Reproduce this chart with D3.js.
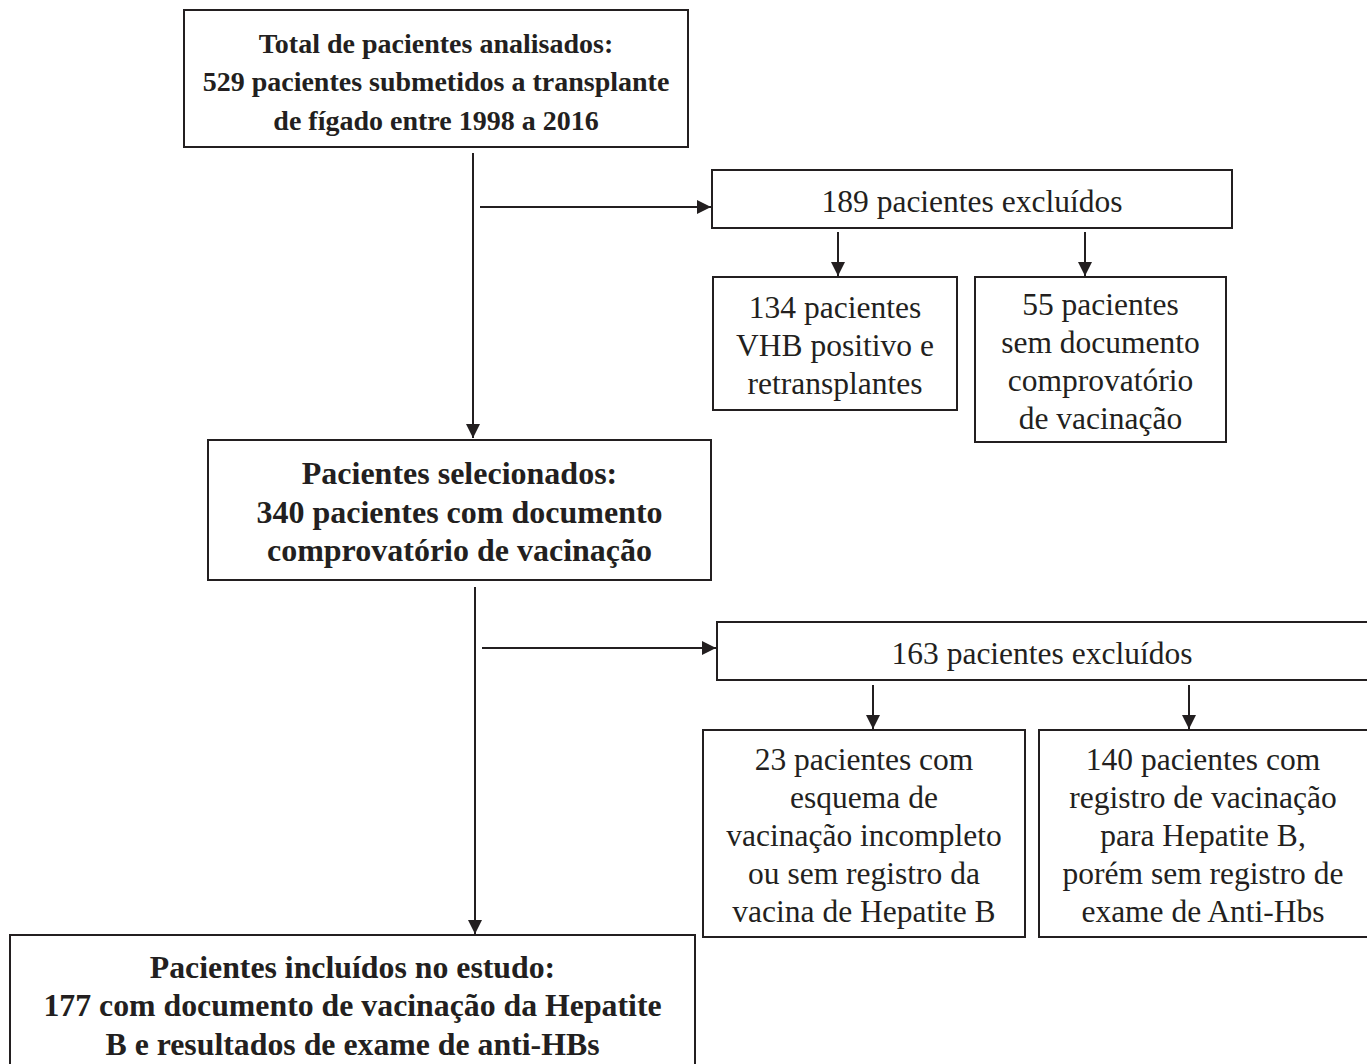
<!DOCTYPE html>
<html>
<head>
<meta charset="utf-8">
<script src="https://cdn.jsdelivr.net/npm/d3@7"></script>
<style>
  body { margin: 0; background: #fff; }
  svg { display: block; }
</style>
</head>
<body>
<script>
// box texts
const mainTotal = ['Total de pacientes analisados:', '529 pacientes submetidos a transplante', 'de fígado entre 1998 a 2016']
const mainSelected = ['Pacientes selecionados:', '340 pacientes com documento', 'comprovatório de vacinação']
const mainIncluded = ['Pacientes incluídos no estudo:', '177 com documento de vacinação da Hepatite', 'B e resultados de exame de anti-HBs']
const excluded1 = ['189 pacientes excluídos']
const excluded1a = ['134 pacientes', 'VHB positivo e', 'retransplantes']
const excluded1b = ['55 pacientes', 'sem documento', 'comprovatório', 'de vacinação']
const excluded2 = ['163 pacientes excluídos']
const excluded2a = ['23 pacientes com', 'esquema de', 'vacinação incompleto', 'ou sem registro da', 'vacina de Hepatite B']
const excluded2b = ['140 pacientes com', 'registro de vacinação', 'para Hepatite B,', 'porém sem registro de', 'exame de Anti-Hbs']

const width = 1367
const height = 1064
const ink = '#231f20'
const font = '"Liberation Serif", "Times New Roman", Tinos, serif'

const svg = d3.select('body').append('svg')
    .attr('width', width)
    .attr('height', height)

svg.append('defs').append('marker')
    .attr('id', 'arrow')
    .attr('viewBox', '0 0 14 14')
    .attr('refX', 14)
    .attr('refY', 7)
    .attr('markerWidth', 14)
    .attr('markerHeight', 14)
    .attr('markerUnits', 'userSpaceOnUse')
    .attr('orient', 'auto')
    .append('path')
    .attr('d', 'M0,0 L14,7 L0,14 Z')
    .attr('fill', ink)

// layout: [x0, y0, x1, y1], font size
const boxes = [
    {lines: mainTotal, rect: [184, 10, 688, 147], bold: true, size: 28},
    {lines: excluded1, rect: [712, 170, 1232, 228], bold: false, size: 31.5},
    {lines: excluded1a, rect: [713, 277, 957, 410], bold: false, size: 31.5},
    {lines: excluded1b, rect: [975, 277, 1226, 442], bold: false, size: 31.5},
    {lines: mainSelected, rect: [208, 440, 711, 580], bold: true, size: 32},
    {lines: excluded2, rect: [717, 622, 1370, 680], bold: false, size: 31.5},
    {lines: excluded2a, rect: [703, 730, 1025, 937], bold: false, size: 31.5},
    {lines: excluded2b, rect: [1039, 730, 1370, 937], bold: false, size: 31.5},
    {lines: mainIncluded, rect: [10, 935, 695, 1072], bold: true, size: 31.8}
]

const arrows = [
    {pts: [[473, 153], [473, 438]]},
    {pts: [[480, 207], [711, 207]]},
    {pts: [[838, 232], [838, 276]]},
    {pts: [[1085, 232], [1085, 276]]},
    {pts: [[475, 587], [475, 934]]},
    {pts: [[482, 648], [716, 648]]},
    {pts: [[873, 685], [873, 729]]},
    {pts: [[1189, 685], [1189, 729]]}
]

const line = d3.line()

svg.selectAll('path.link')
    .data(arrows)
    .enter()
    .append('path')
    .attr('class', 'link')
    .attr('d', d => line(d.pts))
    .attr('stroke', ink)
    .attr('stroke-width', 2)
    .attr('fill', 'none')
    .attr('marker-end', 'url(#arrow)')

const g = svg.selectAll('g.box')
    .data(boxes)
    .enter()
    .append('g')
    .attr('class', 'box')

g.append('rect')
    .attr('x', d => d.rect[0])
    .attr('y', d => d.rect[1])
    .attr('width', d => d.rect[2] - d.rect[0])
    .attr('height', d => d.rect[3] - d.rect[1])
    .attr('fill', '#fff')
    .attr('stroke', ink)
    .attr('stroke-width', 2)

g.each(function(d) {
    const lineHeight = d.bold ? 38.5 : 37.8
    const cx = (d.rect[0] + Math.min(d.rect[2], width)) / 2
    const cy = (d.rect[1] + Math.min(d.rect[3], height + 8)) / 2 + 2
    const top = cy - (d.lines.length - 1) * lineHeight / 2
    d3.select(this).selectAll('text')
        .data(d.lines)
        .enter()
        .append('text')
        .attr('x', cx)
        .attr('y', (t, i) => top + i * lineHeight + 10.5)
        .attr('text-anchor', 'middle')
        .attr('font-size', d.size)
        .attr('font-weight', d.bold ? 'bold' : 'normal')
        .attr('fill', ink)
        .style('font-family', font)
        .text(t => t)
})
</script>
</body>
</html>
